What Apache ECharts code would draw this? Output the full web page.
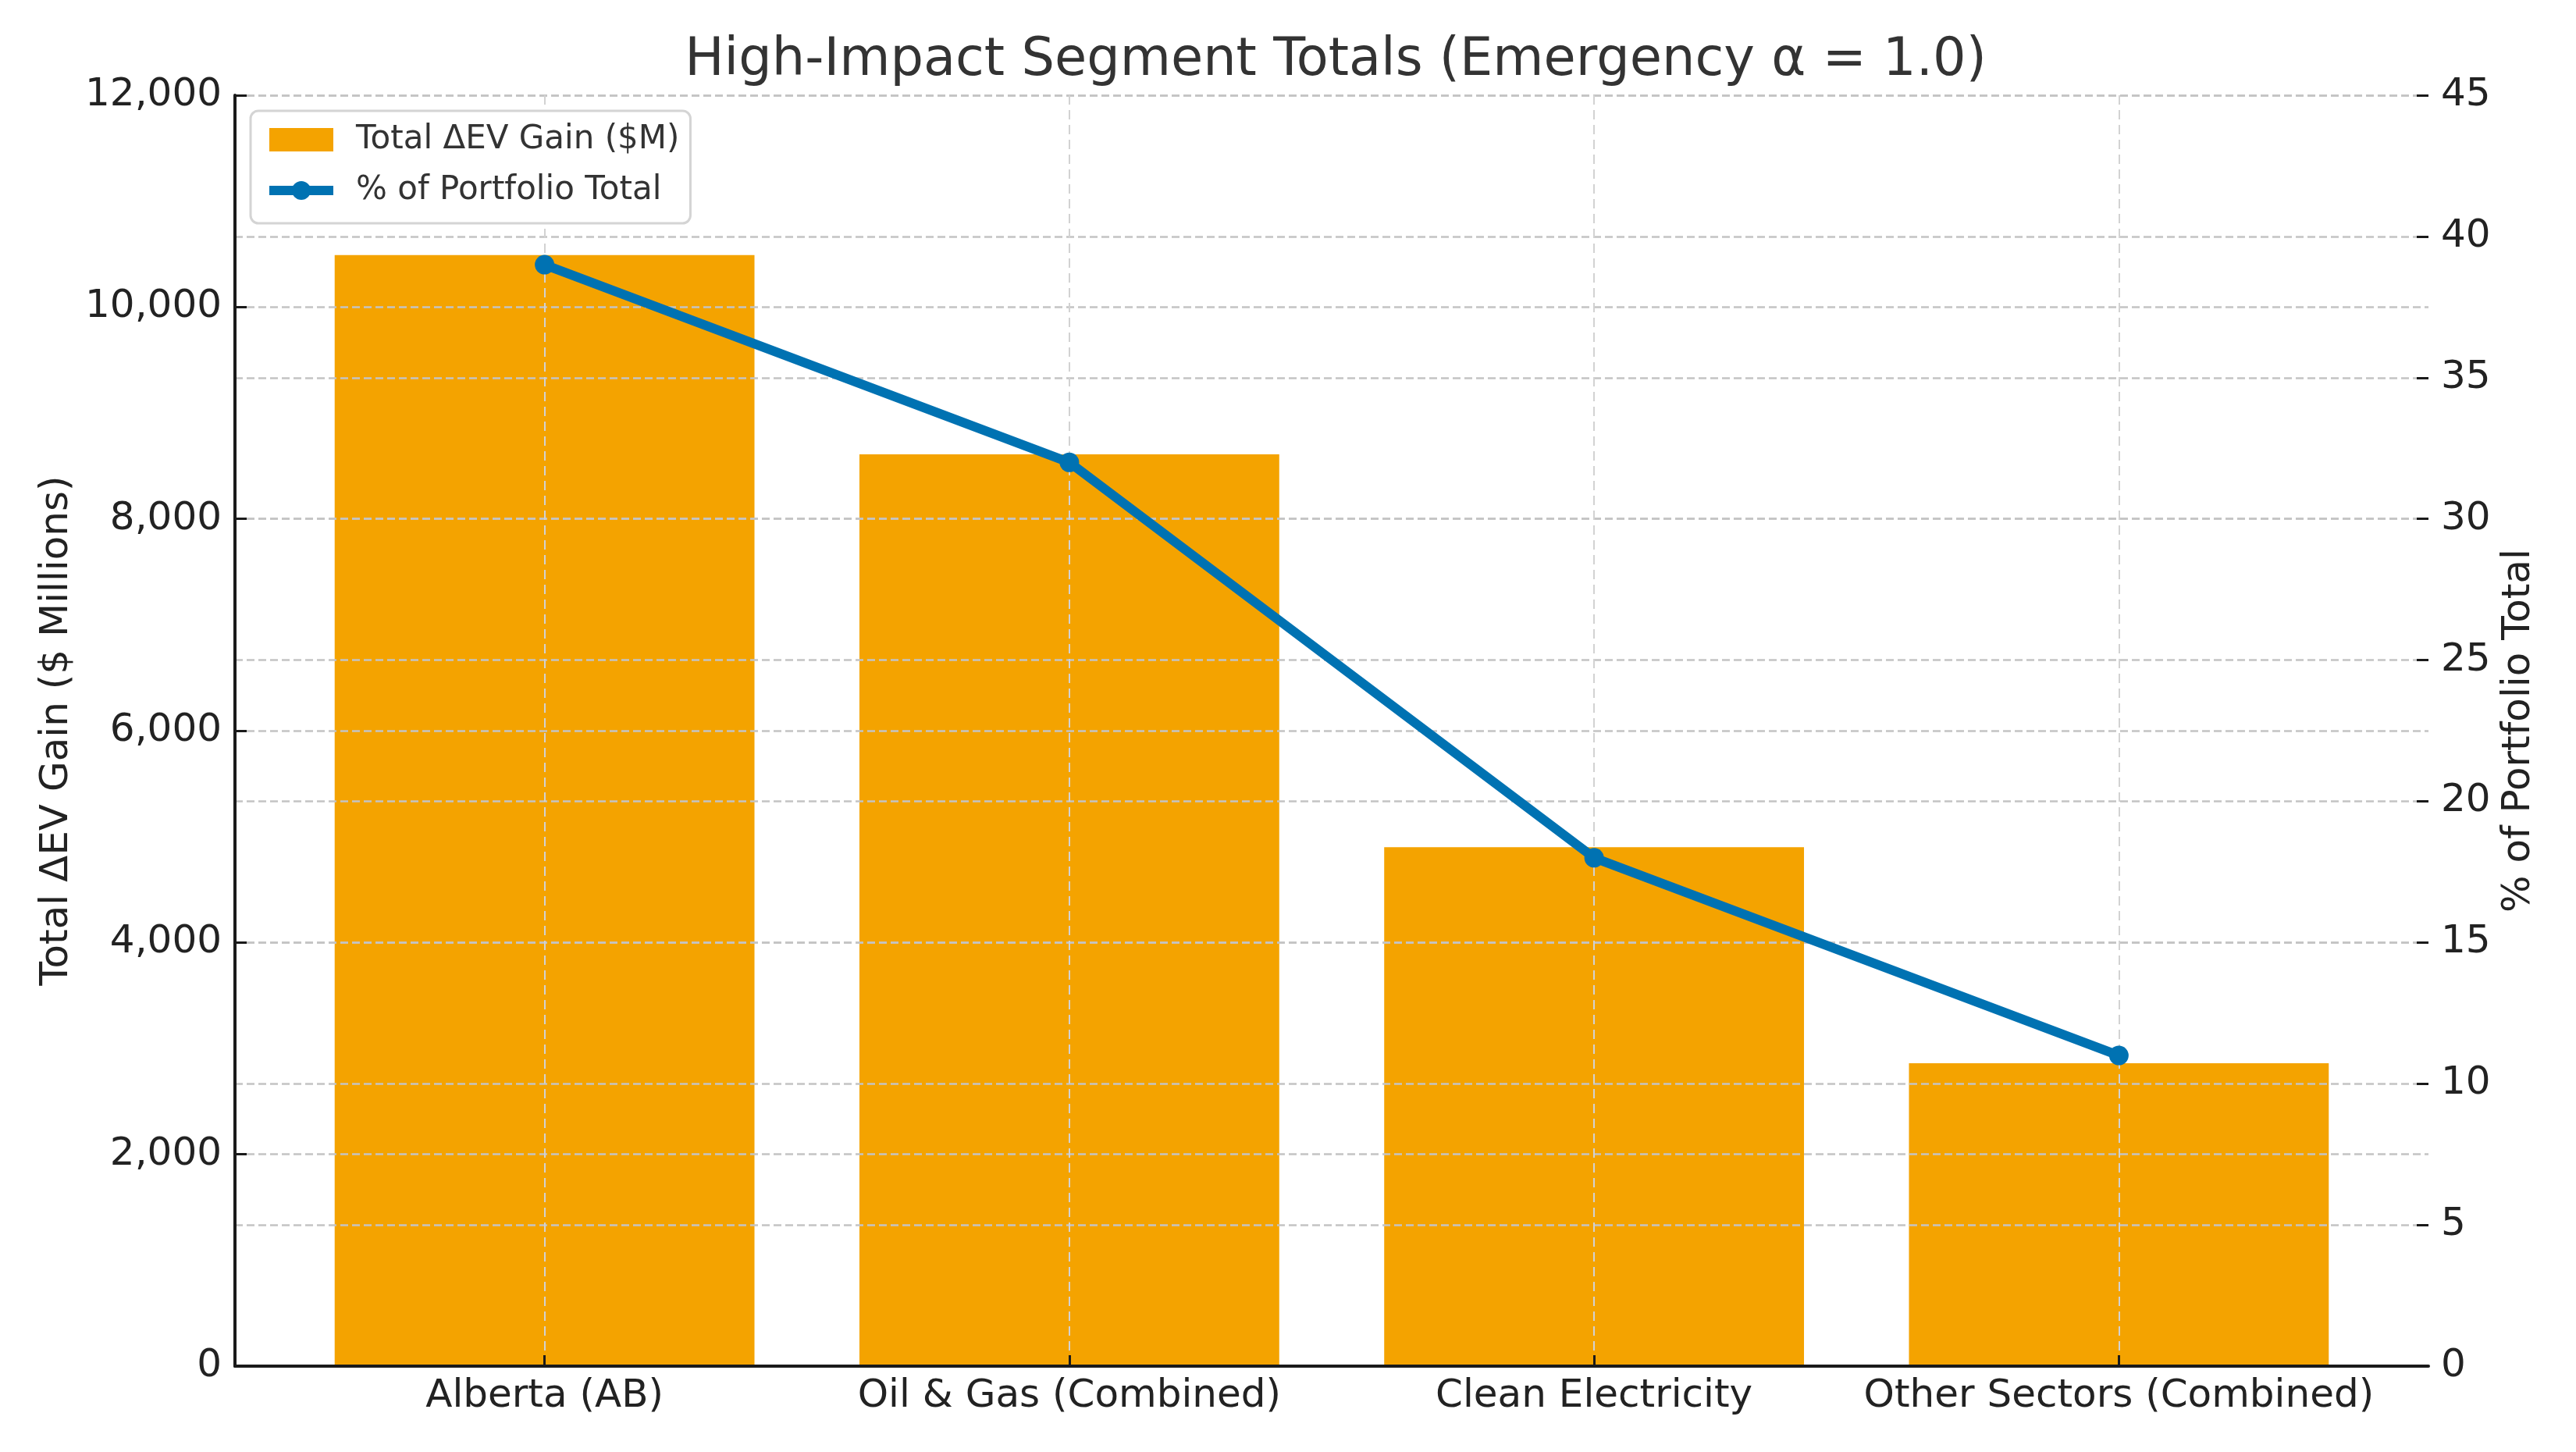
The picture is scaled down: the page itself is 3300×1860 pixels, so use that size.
<!DOCTYPE html>
<html>
<head>
<meta charset="utf-8">
<script src="https://cdn.jsdelivr.net/npm/echarts@6/dist/echarts.min.js"></script>
<style>
  html, body { margin: 0; padding: 0; background: #fff; }
  #chart { width: 3300px; height: 1860px; }
</style>
</head>
<body>
<div id="chart"></div>
<script>
// segment names on the x axis
const categories = ['Alberta (AB)', 'Oil & Gas (Combined)', 'Clean Electricity', 'Other Sectors (Combined)'];
// total ΔEV gain, $M (left axis)
const gainValues = [10490, 8610, 4900, 2860];
// share of portfolio total, % (right axis)
const shareValues = [39.0, 32.0, 18.0, 11.0];
const categoryTicks = [0, 1, 2, 3];

const FONT = 'DejaVu Sans';
const chart = echarts.init(document.getElementById('chart'));

const dashedGrid = {
  show: true,
  lineStyle: { color: '#c4c4c4', width: 2.5, type: [10, 5] }
};

const option = {
  backgroundColor: '#fff',
  animation: false,
  textStyle: { fontFamily: FONT },
  title: {
    text: 'High-Impact Segment Totals (Emergency α = 1.0)',
    left: 1706,
    top: 40,
    textAlign: 'center',
    textStyle: { fontFamily: FONT, fontSize: 67, fontWeight: 'normal', color: '#333' }
  },
  legend: {
    orient: 'vertical',
    left: 321,
    top: 142,
    padding: [16, 14, 21, 18],
    itemGap: 23,
    itemWidth: 82,
    itemHeight: 30,
    backgroundColor: '#fff',
    borderColor: '#d4d4d4',
    borderWidth: 3,
    borderRadius: 10,
    textStyle: { fontFamily: FONT, fontSize: 42, color: '#333', padding: [0, 0, 0, 24] },
    data: [
      { name: 'Total ΔEV Gain ($M)', icon: 'rect' },
      { name: '% of Portfolio Total', lineStyle: { width: 12 } }
    ]
  },
  grid: { left: 301, right: 189, top: 122, bottom: 110, containLabel: false },
  xAxis: {
    type: 'value',
    min: -0.59,
    max: 3.59,
    axisLine: { show: true, onZero: false, lineStyle: { color: '#1a1a1a', width: 4 } },
    axisTick: { show: true, inside: true, length: 14, customValues: categoryTicks,
      lineStyle: { color: '#1a1a1a', width: 3 } },
    axisLabel: { customValues: categoryTicks, margin: 14, fontFamily: FONT, fontSize: 50, color: '#222',
      formatter: v => categories[Math.round(v)] },
    splitLine: { show: true, lineStyle: { color: '#d2d2d2', width: 2, type: [12, 7] } }
  },
  yAxis: [{
    type: 'value',
    min: 0,
    max: 12000,
    interval: 2000,
    name: 'Total ΔEV Gain ($ Millions)',
    nameLocation: 'middle',
    nameRotate: 90,
    nameGap: 203,
    nameTextStyle: { fontFamily: FONT, fontSize: 50, color: '#222' },
    axisLine: { show: true, onZero: false, lineStyle: { color: '#1a1a1a', width: 4 } },
    axisTick: { show: true, inside: true, length: 15, lineStyle: { color: '#1a1a1a', width: 3 } },
    axisLabel: { margin: 17, fontFamily: FONT, fontSize: 50, color: '#222',
      formatter: v => v.toLocaleString('en-US') },
    splitLine: dashedGrid
  }, {
    type: 'value',
    position: 'right',
    min: 0,
    max: 45,
    interval: 5,
    name: '% of Portfolio Total',
    nameLocation: 'middle',
    nameRotate: 90,
    nameGap: 89,
    nameTextStyle: { fontFamily: FONT, fontSize: 50, color: '#222' },
    axisLine: { show: false, onZero: false },
    axisTick: { show: true, inside: true, length: 15, lineStyle: { color: '#1a1a1a', width: 3 } },
    axisLabel: { margin: 16, fontFamily: FONT, fontSize: 50, color: '#222' },
    splitLine: dashedGrid
  }],
  series: [{
    name: 'Total ΔEV Gain ($M)',
    type: 'bar',
    z: -1,
    barWidth: '80%',
    itemStyle: { color: '#F4A300' },
    data: gainValues.map((v, i) => [i, v])
  }, {
    name: '% of Portfolio Total',
    type: 'line',
    yAxisIndex: 1,
    z: 5,
    symbol: 'circle',
    symbolSize: 25,
    lineStyle: { color: '#0072B2', width: 12 },
    itemStyle: { color: '#0072B2' },
    data: shareValues.map((v, i) => [i, v])
  }]
};

chart.setOption(option);
window.addEventListener('resize', function () {
  chart.resize();
});
</script>
</body>
</html>
